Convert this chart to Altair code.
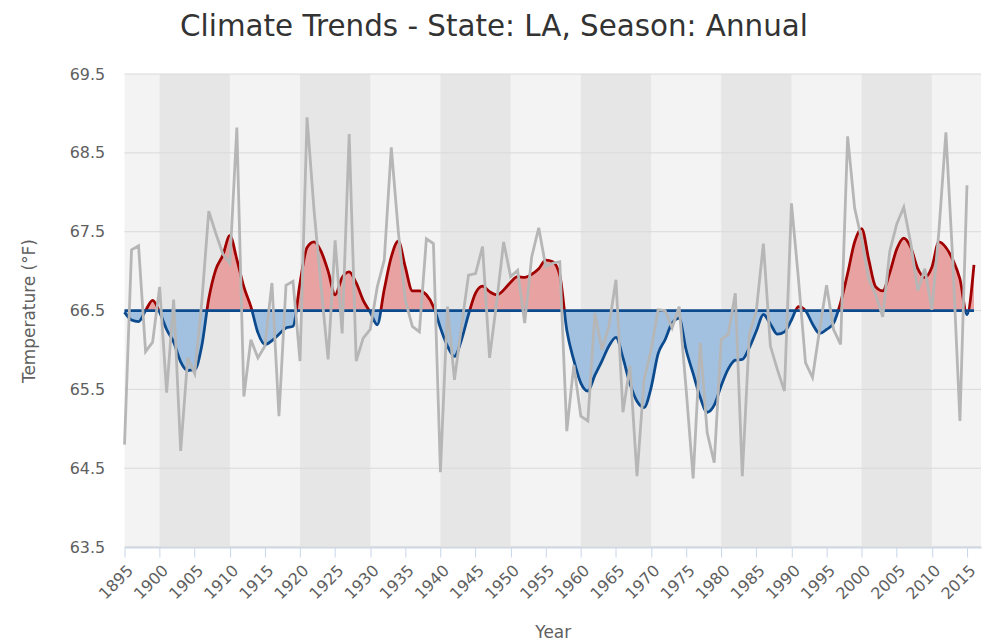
import altair as alt
import pandas as pd

# ---------------- data ----------------
years = list(range(1895, 2017))

annual = [
    64.80, 67.27, 67.32, 65.98, 66.10, 66.80, 65.46, 66.64, 64.72, 65.90,  # 1895-1904
    65.70, 66.60, 67.76, 67.48, 67.22, 67.10, 68.82, 65.41, 66.13, 65.90,  # 1905-1914
    66.05, 66.85, 65.16, 66.82, 66.87, 65.86, 68.95, 67.77, 66.80, 65.88,  # 1915-1924
    67.39, 66.21, 68.74, 65.86, 66.15, 66.26, 66.80, 67.14, 68.57, 67.50,  # 1925-1934
    66.63, 66.30, 66.23, 67.41, 67.35, 64.45, 66.55, 65.62, 66.30, 66.95,  # 1935-1944
    66.97, 67.31, 65.90, 66.60, 67.37, 66.93, 67.01, 66.34, 67.18, 67.55,  # 1945-1954
    67.06, 67.10, 67.12, 64.97, 65.81, 65.16, 65.10, 66.47, 66.00, 66.30,  # 1955-1964
    66.89, 65.21, 65.80, 64.40, 65.62, 66.00, 66.51, 66.50, 66.28, 66.55,  # 1965-1974
    65.50, 64.37, 66.09, 64.95, 64.57, 66.13, 66.20, 66.72, 64.40, 66.20,  # 1975-1984
    66.50, 67.35, 66.05, 65.75, 65.48, 67.86, 66.90, 65.84, 65.65, 66.25,  # 1985-1994
    66.82, 66.26, 66.07, 68.71, 67.80, 67.40, 66.90, 66.70, 66.42, 67.25,  # 1995-2004
    67.60, 67.81, 67.35, 66.75, 67.03, 66.51, 67.50, 68.76, 67.10, 65.10,  # 2005-2014
    68.09, None,                                                           # 2015-2016
]

smooth = [
    66.48, 66.38, 66.36, 66.50, 66.63, 66.48, 66.26, 66.10, 65.85, 65.74,  # 1895-1904
    65.75, 66.05, 66.65, 67.02, 67.20, 67.45, 67.15, 66.80, 66.55, 66.22,  # 1905-1914
    66.07, 66.12, 66.20, 66.28, 66.30, 66.85, 67.30, 67.37, 67.25, 67.00,  # 1915-1924
    66.70, 66.92, 66.99, 66.85, 66.63, 66.48, 66.32, 66.77, 67.18, 67.38,  # 1925-1934
    67.05, 66.75, 66.75, 66.70, 66.55, 66.28, 66.05, 65.92, 66.13, 66.45,  # 1935-1944
    66.72, 66.81, 66.74, 66.70, 66.76, 66.86, 66.93, 66.92, 66.96, 67.03,  # 1945-1954
    67.14, 67.12, 66.95, 66.25, 65.87, 65.58, 65.48, 65.68, 65.86, 66.05,  # 1955-1964
    66.16, 65.90, 65.57, 65.35, 65.27, 65.52, 65.95, 66.13, 66.34, 66.40,  # 1965-1974
    66.00, 65.70, 65.40, 65.21, 65.30, 65.55, 65.76, 65.87, 65.88, 66.03,  # 1975-1984
    66.24, 66.45, 66.33, 66.20, 66.23, 66.38, 66.55, 66.50, 66.33, 66.21,  # 1985-1994
    66.26, 66.34, 66.60, 66.97, 67.37, 67.54, 67.15, 66.80, 66.75, 66.98,  # 1995-2004
    67.28, 67.42, 67.30, 67.03, 66.92, 67.05, 67.37, 67.30, 67.14, 66.90,  # 2005-2014
    66.45, 67.08,                                                          # 2015-2016
]

baseline = 66.5
band_start = [1900, 1920, 1940, 1960, 1980, 2000]
band_end = [1910, 1930, 1950, 1970, 1990, 2010]
y_ticks = [63.5, 64.5, 65.5, 66.5, 67.5, 68.5, 69.5]
x_ticks = list(range(1895, 2016, 5))
x_domain = [1895, 2017]

# ---------------- styling ----------------
FONT = "DejaVu Sans"
RED_LINE = "#a00000"
BLUE_LINE = "#0c4a8e"
RED_FILL = "#e8a2a2"
BLUE_FILL = "#a2c1e0"
GRAY = "#b6b6b6"
LIGHT_BG = "#f3f3f3"
DARK_BAND = "#e6e6e6"
GRID = "#d9d9d9"
AXIS_BLUE = "#c8d6e8"
LABEL = "#606060"

W, H = 860, 475

df = pd.DataFrame({"year": years, "annual": annual, "smooth": smooth})
df["base"] = baseline
bands = pd.DataFrame({"year": band_start, "end": band_end,
                      "lo": [y_ticks[0]] * len(band_start),
                      "hi": [y_ticks[-1]] * len(band_start)})
grid = pd.DataFrame({"v": y_ticks})

# gradient split at the baseline (relative to the curve's own vertical extent)
smax, smin = max(smooth), min(smooth)
off = (smax - baseline) / (smax - smin)


def split(top, bottom):
    return alt.Gradient(
        gradient="linear", x1=0, x2=0, y1=0, y2=1,
        stops=[alt.GradientStop(offset=0, color=top),
               alt.GradientStop(offset=off, color=top),
               alt.GradientStop(offset=off, color=bottom),
               alt.GradientStop(offset=1, color=bottom)])


xscale = alt.Scale(domain=x_domain, nice=False, zero=False)
yscale = alt.Scale(domain=[y_ticks[0], y_ticks[-1]], nice=False, zero=False)

x_axis = alt.Axis(values=x_ticks, format="d", labelAngle=-45, labelAlign="right",
                  labelBaseline="top", labelFontSize=16, labelColor=LABEL,
                  labelFont=FONT, labelPadding=5, labelFlush=False, labelOverlap=False,
                  domainColor=AXIS_BLUE, domainWidth=2, tickColor=AXIS_BLUE,
                  tickSize=10, tickWidth=1, grid=False, title="Year",
                  titleFont=FONT, titleFontSize=17, titleColor=LABEL,
                  titleFontWeight="normal", titlePadding=23)
y_axis = alt.Axis(values=y_ticks, format=".1f", grid=False, domain=False, ticks=False,
                  labelFontSize=16, labelColor=LABEL, labelFont=FONT, labelPadding=20,
                  title="Temperature (°F)", titleFont=FONT, titleFontSize=17,
                  titleColor=LABEL, titleFontWeight="normal", titlePadding=31)

X = alt.X("year:Q", scale=xscale, axis=x_axis, title="Year")


def Y(field):
    return alt.Y(field, type="quantitative", scale=yscale, axis=y_axis, title="Temperature (°F)")


band_layer = alt.Chart(bands).mark_rect(color=DARK_BAND).encode(
    x=X, x2="end:Q", y=Y("lo"), y2="hi:Q",
)

grid_layer = alt.Chart(grid).mark_rule(color=GRID, strokeWidth=1).encode(
    y=Y("v")
)

area_layer = alt.Chart(df).mark_area(fill=split(RED_FILL, BLUE_FILL), interpolate="monotone").encode(
    x=X, y=Y("smooth"), y2="base:Q",
)

smooth_layer = alt.Chart(df).mark_line(stroke=split(RED_LINE, BLUE_LINE), strokeWidth=2.8,
                                       interpolate="monotone").encode(
    x=X, y=Y("smooth"),
)

base_layer = alt.Chart(df).mark_line(color=BLUE_LINE, strokeWidth=2.8).encode(
    x=X, y=Y("base"),
)

annual_layer = alt.Chart(df).mark_line(color=GRAY, strokeWidth=2.8).encode(
    x=X, y=Y("annual"),
)

chart = alt.layer(
    band_layer, grid_layer, area_layer, smooth_layer, base_layer, annual_layer
).properties(
    width=W, height=H,
    padding={"left": 117, "top": 65, "right": 1, "bottom": 95},
    autosize=alt.AutoSizeParams(type="none"),
    background="white",
    title=alt.TitleParams("Climate Trends - State: LA, Season: Annual", font=FONT,
                          fontSize=29.5, fontWeight="normal", color="#333333",
                          anchor="middle", dx=-59, offset=24),
).configure_view(fill=LIGHT_BG, strokeWidth=0)

chart.save("out.html", embed_options={"renderer": "svg", "actions": False})
